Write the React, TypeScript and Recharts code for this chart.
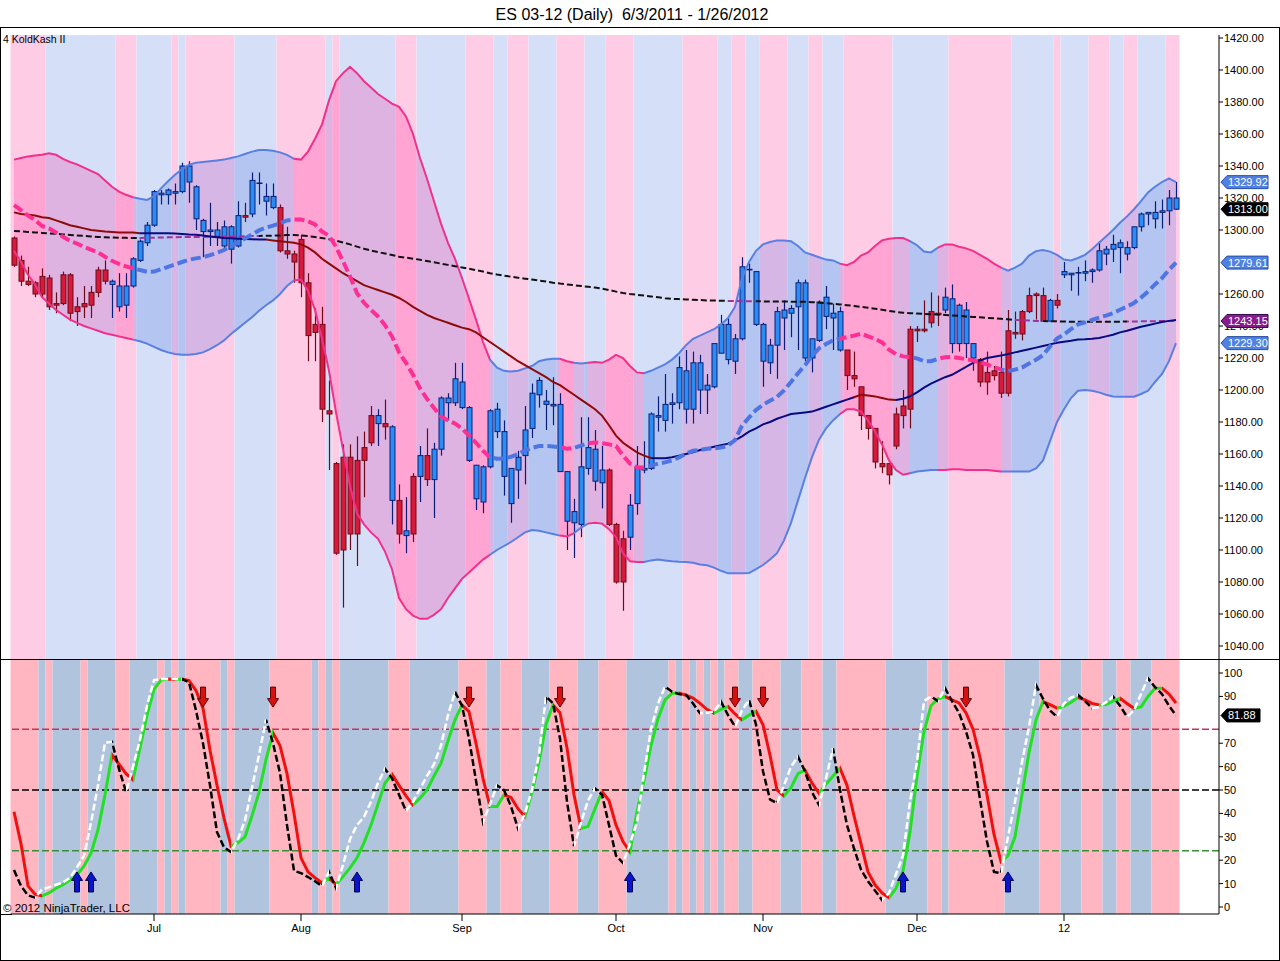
import React from 'react';
import {
  ComposedChart, XAxis, YAxis, Bar, Line, Area,
  ReferenceArea, ReferenceLine, ReferenceDot,
} from 'recharts';

// ---------------- DATA (ES 03-12 daily, 6/3/2011 - 1/26/2012) ----------------
const OPEN = [
  1295,1281,1268,1267,1271,1270,1254,1272,1272,1252,
  1254,1261,1275,1275,1266,1252,1253,1265,1281,1292,
  1303,1322,1322,1323,1324,1330,1307,1299,1299,1296,
  1290,1288,1290,1309,1310,1329,1318,1314,1314,1287,
  1285,1294,1267,1241,1241,1187,1154,1158,1158,1156,
  1164,1184,1179,1179,1131,1131,1109,1146,1146,1159,
  1144,1163,1192,1192,1189,1156,1132,1130,1152,1174,
  1146,1129,1150,1159,1176,1197,1191,1190,1149,1118,
  1117,1116,1151,1143,1142,1150,1116,1107,1108,1129,
  1150,1151,1183,1181,1191,1192,1188,1188,1200,1200,
  1202,1223,1219,1218,1232,1275,1241,1218,1217,1228,
  1245,1248,1252,1220,1220,1231,1246,1245,1225,1225,
  1209,1202,1184,1176,1154,1154,1185,1190,1238,1238,
  1238,1249,1248,1250,1229,1229,1229,1220,1219,1211,
  1212,1211,1237,1236,1249,1259,1260,1259,1243,1256,
  1272,1272,1273,1273,1274,1275,1285,1288,1289,1285,
  1289,1302,1310,1307,1311,1312,1320,
];
const HIGH = [
  1296,1284,1277,1268,1276,1272,1261,1274,1273,1258,
  1265,1265,1277,1281,1269,1273,1273,1283,1294,1305,
  1325,1325,1326,1329,1342,1343,1328,1307,1317,1305,
  1306,1303,1318,1317,1336,1336,1329,1329,1316,1302,
  1287,1297,1273,1251,1252,1206,1155,1166,1166,1171,
  1174,1190,1188,1194,1178,1141,1133,1148,1165,1176,
  1167,1196,1198,1217,1217,1190,1153,1153,1188,1192,
  1181,1151,1162,1190,1204,1208,1200,1208,1198,1149,
  1132,1183,1183,1175,1165,1151,1117,1112,1135,1165,
  1168,1186,1196,1210,1198,1221,1225,1224,1222,1210,
  1229,1247,1245,1235,1283,1279,1274,1242,1232,1252,
  1256,1253,1269,1269,1232,1256,1265,1254,1252,1225,
  1224,1202,1184,1176,1168,1154,1189,1200,1240,1240,
  1256,1261,1259,1264,1266,1254,1255,1229,1220,1224,
  1215,1224,1250,1249,1250,1264,1261,1264,1257,1260,
  1280,1273,1277,1281,1276,1293,1290,1297,1294,1293,
  1302,1311,1311,1318,1319,1325,1330,
];
const LOW = [
  1277,1265,1265,1258,1258,1250,1248,1253,1243,1240,
  1245,1245,1258,1266,1245,1249,1245,1264,1280,1290,
  1302,1316,1316,1316,1323,1317,1300,1283,1290,1290,
  1288,1279,1289,1305,1308,1316,1309,1313,1286,1282,
  1267,1258,1218,1218,1180,1150,1097,1064,1100,1090,
  1133,1165,1165,1169,1116,1104,1098,1105,1130,1140,
  1120,1159,1181,1190,1188,1155,1125,1123,1151,1170,
  1134,1117,1132,1141,1170,1189,1175,1178,1149,1100,
  1095,1108,1147,1137,1126,1115,1079,1062,1100,1122,
  1148,1150,1174,1174,1179,1188,1179,1179,1185,1185,
  1201,1223,1216,1210,1231,1267,1240,1202,1210,1207,
  1225,1233,1225,1218,1211,1230,1238,1225,1224,1200,
  1202,1175,1169,1151,1148,1141,1163,1176,1176,1230,
  1236,1239,1240,1248,1223,1224,1220,1212,1202,1197,
  1206,1195,1196,1232,1231,1248,1244,1243,1243,1251,
  1270,1262,1259,1268,1267,1274,1278,1280,1273,1281,
  1288,1299,1303,1301,1301,1303,1312.5,
];
const CLOSE = [
  1278,1268,1266,1260,1260,1252,1253,1254,1248,1249,
  1252,1253,1261,1268,1268,1265,1265,1282,1293,1303,
  1324,1323,1325,1324,1340,1340,1327,1306,1300,1300,
  1302,1302,1309,1308,1331,1329.5,1321,1321,1287,1285,
  1280,1267,1234,1236,1188,1185,1098,1100,1110,1110,
  1156,1167,1184,1177,1177,1110,1112,1110,1159,1144,
  1163,1195,1195,1207,1205,1189,1153,1152,1187,1188,
  1174,1151,1158,1175,1198,1206,1193,1191,1191,1149,
  1124,1152,1164,1163,1150,1116,1080,1080,1128,1152,
  1151,1185,1184,1191,1192,1214,1212,1217,1217,1203,
  1229,1241,1241,1232,1277,1275.5,1274,1241,1228,1249,
  1250,1251,1267,1267,1232,1255,1258,1248,1249,1209,
  1207,1184,1176,1155,1152,1147,1165,1184,1188,1237,
  1237,1242,1247,1258,1257,1253,1250,1229,1205,1205,
  1209,1198,1198,1235,1235,1249,1259,1243,1256,1253,
  1274,1273,1273.5,1274,1275,1287,1288,1291,1292,1289,
  1302,1310,1311,1311,1312,1320,1313,
];
// bar paint colour (trend): r = red, b = blue   [colour, count]
const BAR_COLOR_RUNS: [string, number][] = [
  ['r',14],['b',19],['r',1],['b',4],['r',14],['b',1],['r',1],['b',1],['r',1],['b',1],['r',1],['b',1],['r',1],
  ['b',25],['r',3],['b',31],['r',14],['b',5],['r',10],['b',1],['r',1],['b',17],
];
const BB_UPPER = [
  1344,1345,1346,1346.5,1347,1348,1347,1344.5,1342.5,1341,
  1339,1337,1335,1331,1327,1324,1322,1320.5,1319.5,1318.75,
  1321,1326,1330.5,1334.5,1338,1340.8,1342,1342.5,1343,1343.5,
  1344,1345,1346,1347.5,1349,1350,1350,1349.5,1348.5,1347,
  1344.5,1344,1349,1357,1366,1381,1393,1398,1402,1398,
  1393,1389,1385,1382,1379,1377,1371,1360,1345,1332,
  1318,1304,1292,1282,1270,1257,1244,1230,1219,1214,
  1212,1211.5,1212,1213.5,1215,1218,1219,1219.5,1219.5,1218,
  1217,1216.5,1217,1217.5,1217,1219,1222,1220,1215,1211,
  1210.5,1212,1214,1216,1219,1223,1228,1232,1234,1236,
  1238,1241,1245,1252,1270,1280,1287,1291,1292.5,1293.5,
  1293.5,1293,1290,1286,1284.5,1283,1281.5,1281,1279,1278,
  1280,1284,1286,1290,1293.5,1294.5,1295,1295,1293,1290.5,
  1286.5,1286,1289,1291,1291,1289.5,1288.5,1287,1284.5,1282,
  1279,1276.5,1274.6,1276.5,1279,1284,1286.8,1287.5,1286.5,1284.4,
  1281.5,1281,1282.5,1284.5,1288,1292,1296,1300,1304.5,1308.5,
  1313,1318,1323.5,1327,1330,1332.3,1329.92,
];
const BB_LOWER = [
  1287,1280,1272,1266,1258,1254,1250,1247,1244,1242,
  1240,1238.5,1237,1235.5,1234.5,1233.5,1232.5,1231.5,1230.5,1229,
  1227,1225,1223.5,1222.5,1222,1222,1222.5,1223.5,1225.5,1228,
  1231,1235,1238.5,1242,1245.5,1249.5,1253,1256,1260,1265,
  1268.5,1269,1262,1250,1232,1212,1186,1163,1140,1123,
  1116,1111,1107,1099,1088,1070,1063,1059,1057,1057,
  1059.5,1063,1070,1076,1082,1086,1090,1094,1097,1100,
  1102.5,1105,1108,1111,1112.5,1112,1111,1110,1109,1108.5,
  1110.5,1114,1116.5,1117,1116.5,1113,1108,1098,1093,1092.5,
  1092.5,1093.5,1094,1093.5,1093,1092.7,1092.5,1092,1091,1090.5,
  1089,1087,1085.4,1085.4,1085.4,1085.6,1088,1090.6,1094,1098,
  1106,1117,1131,1145,1158,1169,1176,1181,1185,1188,
  1188,1186.5,1181,1174,1166,1156,1150,1147,1148,1149,
  1149.5,1150,1150,1150,1150.5,1150.5,1150,1150,1150,1150,
  1149.5,1149,1149,1149,1149,1149,1151,1156,1168,1180,
  1188,1195,1199.5,1200,1199.5,1198.5,1197,1196,1195.8,1195.8,
  1195.8,1197.5,1199.5,1205,1210,1218,1229.3,
];
// Bollinger trend colour: p = pink (falling), b = blue (rising)
const BB_TREND_RUNS: [string, number][] = [
  ['p',18],['b',23],['p',28],['b',10],['p',2],['b',2],['p',8],['b',28],['p',10],['b',4],['p',9],['b',25],
];
const MA50 = [
  1311,1310,1309.5,1309,1308,1307.5,1306,1304.5,1303,1302,
  1301,1300,1299.5,1299,1298.8,1298.5,1298.5,1298.5,1298,1298,
  1298,1298,1298,1297.8,1297.5,1297.2,1297,1296.5,1296,1295.5,
  1295,1294.8,1294.6,1294.4,1294.2,1294,1294,1293.5,1293,1292.5,
  1292,1291,1289,1286,1282,1279,1276,1273,1270.5,1268,
  1265.5,1264,1262.5,1261,1259.5,1257.5,1255,1252,1249.5,1247,
  1245,1243.5,1242,1240.5,1239,1238,1236,1233,1230,1227,
  1224,1221,1218,1215.5,1213,1210.5,1208,1205,1203,1200,
  1197,1194,1191,1188,1184,1178,1171.5,1167,1164,1161,
  1159,1157.5,1157.3,1157.3,1158,1159,1160,1161,1162.5,1163.5,
  1164.5,1165.5,1166.5,1168.5,1171,1174,1176,1178.5,1180,1182,
  1183.5,1185,1185.5,1186,1186.5,1188,1189.5,1191,1192.5,1194,
  1195.5,1197,1196.5,1196,1195,1194,1193.75,1194.5,1196,1198.5,
  1201.5,1204,1206,1208,1209.5,1212,1214.5,1217,1218.5,1220,
  1220.8,1221.5,1222.5,1223.5,1224.5,1225.5,1226.5,1227.5,1228.5,1229.5,
  1230.2,1230.8,1231.5,1231.7,1232,1232.5,1233.5,1234.5,1236,1237,
  1238.3,1239.5,1240.5,1241.5,1242.5,1243.2,1243.8,
];
// r = dark red (falling), n = navy (rising)
const MA_TREND_RUNS: [string, number][] = [['r',19],['n',18],['r',55],['n',29],['r',6],['n',40]];
const SMA200 = [
  1299.4,1299.1,1298.8,1298.5,1298.2,1297.9,1297.6,1297.2,1296.9,1296.6,
  1296.3,1296,1295.7,1295.5,1295.3,1295.2,1295.1,1295,1295,1295.1,
  1295.2,1295.3,1295.4,1295.5,1295.6,1295.6,1295.7,1295.7,1295.8,1295.8,
  1295.9,1296,1296,1296.1,1296.2,1296.3,1296.4,1296.5,1296.6,1296.8,
  1296.9,1296.6,1296.2,1295.6,1295,1294.2,1293.3,1292.2,1291,1289.6,
  1288.3,1287.2,1286.2,1285.3,1284.4,1283.3,1282.7,1282.1,1281.4,1280.6,
  1279.8,1279,1278.2,1277.4,1276.6,1275.8,1274.9,1274,1273,1272.2,
  1271.5,1270.8,1270.2,1269.6,1269,1268.4,1267.8,1267.1,1266.5,1266,
  1265.5,1265,1264.5,1264,1263.4,1262.5,1261.5,1260.6,1260,1259.5,
  1259,1258.5,1258,1257.4,1257,1256.8,1256.6,1256.4,1256.2,1256,
  1255.9,1255.8,1255.7,1255.6,1255.5,1255.5,1255.4,1255.4,1255.3,1255.3,
  1255.3,1255.2,1255.2,1255.1,1254.9,1254.6,1254.3,1253.9,1253.5,1253,
  1252.5,1252,1251.4,1250.8,1250.1,1249.4,1248.8,1248.3,1248,1247.8,
  1247.6,1247.4,1247.2,1246.9,1246.6,1246.3,1246,1245.7,1245.4,1245.1,
  1244.8,1244.5,1244.2,1243.8,1243.6,1243.4,1243.2,1243.1,1243,1242.9,
  1242.8,1242.7,1242.7,1242.7,1242.7,1242.7,1242.7,1242.7,1242.7,1242.8,
  1242.8,1242.9,1243,1243,1243.1,1243.15,1243.15,
];
// k = black, p = purple
const SMA_TREND_RUNS: [string, number][] = [['k',19],['p',17],['k',67],['p',4],['k',37],['p',4],['k',12],['p',7]];
const STOCH_D = [
  40.7,27,9,5.5,4.7,6,8,9.5,11.5,13.7,
  17.5,23,33,48,65,61,57,54.3,68,82,
  93,97,97.4,97.2,97.4,96.8,92.5,85,67,52,
  38,26,27.5,30,39,49,63,74.4,69,57,
  40,21,15,12.5,10.3,12.3,9.6,13,16.7,21,
  27.5,35,44,53,56.7,52,47.5,43.6,46.5,50,
  56,61.5,71,80,86.3,83.5,70,55,42.9,42.9,
  47.9,46.8,42,38.6,49,62,78,86.3,83,68,
  48,33.6,34.4,42,49.3,45.5,35,28,23.6,40.7,
  54,69,80.5,88.5,91.3,91.5,90.5,89.3,87,84.5,
  82.8,84.5,85.7,82.5,80,82,83.6,77.9,64.9,50,
  47.5,51,57,58.5,53,48.6,52.5,56,59.3,52,
  39,27,15,9.5,6,4,8,15.4,32,56,
  75,86,89,89.9,88.5,87.2,83,76,64,48,
  31,19.4,22,30,48,66,80,87.8,86.5,85,
  85.8,87.5,89.5,88.5,87,86.3,86.5,88,89.2,87,
  84.9,85.5,90,93.5,93.5,91,87.2,
];
const STOCH_K = [
  15.8,9,5,4,7.5,8.5,9.5,10.5,12.5,17,
  22,36,52,70.2,70.6,59,49.3,60,71.4,86,
  97,97.4,97.4,97.4,97.4,96,84,70,52,32,
  25.5,23.5,29,37,51,65,80,70,57.3,35,
  15.5,14.5,12.8,11,9,15,8.1,18,29,35,
  38.5,45,53,59,55,48,41,45,50.5,56,
  61,69,82,92,86,72,54,36.4,44,52,
  50,43,33.6,40,50,65,90,87,72,45,
  26,36,45.5,50.7,48,35,22,18.8,27,36.4,
  57,76,87,94.2,92,91,90.6,87,82.8,83,
  83.5,87.8,82,77.1,84,88.5,78,58,46,44.3,
  52,60,64.2,58,49,43.6,55,67.8,50,35,
  25,16,11,7,3,6,14,22,45,62,
  88,90,88,93.5,88,83,75,65,46,28,
  15,14.4,30,45,62,77,94.8,89,84,81.3,
  87,89.5,90.6,88,85,85.5,87.5,89.9,86,81.3,
  84,91,97.7,94,91,86,81.88,
];
const UP_ARROWS = [9, 11, 49, 88, 127, 142];
const DOWN_ARROWS = [27, 37, 65, 78, 103, 107, 136];
const UP_ARROW_LEVEL = 10.7;
const DOWN_ARROW_LEVEL = 89.7;
// background bar shading (p = pink, b = blue)
const UPPER_BG_RUNS: [string, number][] = [
  ['p',5],['b',10],['p',3],['b',5],['p',1],['b',1],['p',7],['b',6],['p',7],['b',1],['p',1],['b',8],['p',3],['b',7],
  ['p',4],['b',2],['p',3],['b',4],['p',4],['b',3],['p',4],['b',7],['p',5],['b',2],['p',2],['b',2],['p',4],['b',3],
  ['p',2],['b',3],['p',7],['b',8],['p',9],['b',6],['p',1],['b',4],['p',3],['b',2],['p',2],['b',4],['p',2],
];
const LOWER_BG_RUNS: [string, number][] = [
  ['p',4],['b',1],['p',1],['b',4],['p',1],['b',4],['p',2],['b',4],['p',1],['b',1],['p',1],['b',1],['p',5],['b',1],
  ['p',1],['b',5],['p',6],['b',1],['p',1],['b',1],['p',1],['b',7],['p',3],['b',7],['p',4],['b',2],['p',3],['b',4],
  ['p',4],['b',3],['p',4],['b',6],['p',1],['b',1],['p',1],['b',1],['p',1],['b',1],['p',1],['b',1],['p',2],['b',2],
  ['p',4],['b',3],['p',3],['b',2],['p',7],['b',6],['p',2],['b',1],['p',8],['b',5],['p',3],['b',3],['p',3],['b',2],
  ['p',2],['b',3],['p',4],
];
// tick labels; 1280.00 and 80 sit fully under the value tags in the reference, so they are not shown
const PRICE_TICKS = [1040,1060,1080,1100,1120,1140,1160,1180,1200,1220,1240,1260,1300,1320,1340,1360,1380,1400,1420];
const OSC_TICKS = [0,10,20,30,40,50,60,70,90,100];
const MONTH_TICK_INDEX = [20, 41, 64, 86, 107, 129, 150];
const MONTH_LABELS = ['Jul', 'Aug', 'Sep', 'Oct', 'Nov', 'Dec', '12'];
const OSC_LEVELS = [76, 50, 24];

// ---------------- helpers ----------------
const FONT = '"Liberation Sans", Arial, Helvetica, sans-serif';
const N = CLOSE.length;

function expand(runs: [string, number][]): string[] {
  const out: string[] = [];
  runs.forEach(([c, n]) => { for (let k = 0; k < n; k++) out.push(c); });
  return out;
}
function runList(runs: [string, number][]) {
  let s = 0;
  return runs.map(([c, n]) => { const r = { c, start: s, end: s + n - 1 }; s += n; return r; });
}

const BAR_COLOR = expand(BAR_COLOR_RUNS);
const BB_TREND = expand(BB_TREND_RUNS);
const MA_TREND = expand(MA_TREND_RUNS);
const SMA_TREND = expand(SMA_TREND_RUNS);

const rows = CLOSE.map((c, i) => ({
  i,
  o: OPEN[i], h: HIGH[i], l: LOW[i], c,
  col: BAR_COLOR[i],
  bu: BB_UPPER[i], bl: BB_LOWER[i], bm: (BB_UPPER[i] + BB_LOWER[i]) / 2,
  ma: MA50[i], sma: SMA200[i],
  d: STOCH_D[i], k: STOCH_K[i],
  up: UP_ARROWS.includes(i) ? UP_ARROW_LEVEL : null,
  dn: DOWN_ARROWS.includes(i) ? DOWN_ARROW_LEVEL : null,
}));

type Seg = { color: string; opacity?: number };
function makeGrad(id: string, segs: Seg[]) {
  const last = segs.length;
  const stops: any[] = [];
  let start = 0;
  for (let s = 1; s <= last; s++) {
    if (s === last || segs[s].color !== segs[start].color || segs[s].opacity !== segs[start].opacity) {
      const op = segs[start].opacity ?? 1;
      stops.push(<stop key={`a${start}`} offset={start / last} stopColor={segs[start].color} stopOpacity={op} />);
      stops.push(<stop key={`b${start}`} offset={s / last} stopColor={segs[start].color} stopOpacity={op} />);
      start = s;
    }
  }
  return <linearGradient key={id} id={id} x1="0" y1="0" x2="1" y2="0">{stops}</linearGradient>;
}
const segIdx = Array.from({ length: N - 1 }, (_, s) => s);

const C = {
  upPinkBg: '#FFCCE6', upBlueBg: '#D5DFF7',
  loPinkBg: '#FFB6C1', loBlueBg: '#B0C4DE',
  bandPink: '#F0308A', bandBlue: '#5A7FE0',
  midPink: '#FF2E93', midBlue: '#4F74E3',
};

const gradBbLine = makeGrad('gBbLine', segIdx.map(s => ({ color: BB_TREND[s + 1] === 'p' ? C.bandPink : C.bandBlue })));
const gradBbMid = makeGrad('gBbMid', segIdx.map(s => ({ color: BB_TREND[s + 1] === 'p' ? C.midPink : C.midBlue })));
const gradBbFill = makeGrad('gBbFill', segIdx.map(s => (BB_TREND[s + 1] === 'p'
  ? { color: '#FF1493', opacity: 0.22 } : { color: '#4169E1', opacity: 0.22 })));
const gradMa = makeGrad('gMa', segIdx.map(s => ({ color: MA_TREND[s + 1] === 'r' ? '#8B0A0A' : '#0A0A80' })));
const gradSma = makeGrad('gSma', segIdx.map(s => ({ color: SMA_TREND[s + 1] === 'p' ? '#A0309A' : '#111111' })));
const gradD = makeGrad('gD', segIdx.map(s => ({ color: STOCH_D[s + 1] >= STOCH_D[s] ? '#22E022' : '#F01010' })));
const gradK = makeGrad('gK', segIdx.map(s => ({ color: STOCH_K[s + 1] >= STOCH_K[s] ? '#FFFFFF' : '#000000' })));

// ---------------- shapes ----------------
const Candle = (props: any) => {
  const { x, y, width, height, payload } = props;
  if (!payload || x == null || y == null || height == null) return <g />;
  const { o, h, l, c, col } = payload;
  const top = Math.min(y, y + height);
  const bot = Math.max(y, y + height);
  const span = h - l;
  const py = (p: number) => (span > 0 ? top + ((h - p) / span) * (bot - top) : top);
  const cx = x + width / 2;
  const bTop = py(Math.max(o, c));
  const bBot = py(Math.min(o, c));
  const fill = col === 'r' ? '#D7193C' : '#2A8CF5';
  const edge = col === 'r' ? '#6E0A17' : '#0A1E78';
  return (
    <g>
      <line x1={cx} x2={cx} y1={top} y2={bot} stroke={edge} strokeWidth={1.2} />
      {bBot - bTop < 1.5 ? (
        <line x1={cx - 3} x2={cx + 3} y1={(bTop + bBot) / 2} y2={(bTop + bBot) / 2} stroke={edge} strokeWidth={1.6} />
      ) : (
        <rect x={cx - 2.5} y={bTop} width={5} height={bBot - bTop} fill={fill} stroke={edge} strokeWidth={1} />
      )}
    </g>
  );
};

const UpArrow = (p: any) => {
  const { cx, cy, value, index } = p;
  if (value == null || cy == null || isNaN(cy)) return <g key={`u${index}`} />;
  const pts = [[cx, cy - 10], [cx + 5.5, cy - 1.5], [cx + 2.5, cy - 1.5], [cx + 2.5, cy + 10], [cx - 2.5, cy + 10], [cx - 2.5, cy - 1.5], [cx - 5.5, cy - 1.5]]
    .map(q => q.join(',')).join(' ');
  return <polygon key={`u${index}`} points={pts} fill="#0A14C8" stroke="#000050" strokeWidth={1} />;
};
const DownArrow = (p: any) => {
  const { cx, cy, value, index } = p;
  if (value == null || cy == null || isNaN(cy)) return <g key={`d${index}`} />;
  const pts = [[cx, cy + 10], [cx + 5.5, cy + 1.5], [cx + 2.5, cy + 1.5], [cx + 2.5, cy - 10], [cx - 2.5, cy - 10], [cx - 2.5, cy + 1.5], [cx - 5.5, cy + 1.5]]
    .map(q => q.join(',')).join(' ');
  return <polygon key={`d${index}`} points={pts} fill="#D81010" stroke="#600000" strokeWidth={1} />;
};

const TAG_X = 1221;
const makeTag = (text: string, fill: string, stroke: string, w: number) => (p: any) => {
  const cy = p.cy;
  if (cy == null || isNaN(cy)) return <g />;
  const hh = 6.5;
  const pts = `${TAG_X},${cy} ${TAG_X + 6},${cy - hh} ${TAG_X + w},${cy - hh} ${TAG_X + w},${cy + hh} ${TAG_X + 6},${cy + hh}`;
  return (
    <g>
      <polygon points={pts} fill={fill} stroke={stroke} strokeWidth={1} />
      <text x={TAG_X + 7} y={cy} dy="0.36em" fontSize={11} fill="#FFFFFF" fontFamily={FONT}>{text}</text>
    </g>
  );
};

const MonthTick = (props: any) => {
  const { x, y, payload } = props;
  const idx = MONTH_TICK_INDEX.indexOf(payload?.value);
  if (idx < 0) return <g />;
  return (
    <g>
      <line x1={x} x2={x} y1={y - 10} y2={y - 3} stroke="#000" strokeWidth={1} />
      <text x={x} y={y} dy="0.71em" textAnchor="middle" fontSize={11} fill="#000" fontFamily={FONT}>{MONTH_LABELS[idx]}</text>
    </g>
  );
};

const axisTick = { fontSize: 11, fill: '#000', fontFamily: FONT };
const LAST = N - 1;

export default function App() {
  const upperRuns = runList(UPPER_BG_RUNS);
  const lowerRuns = runList(LOWER_BG_RUNS);
  return (
    <div style={{ position: 'absolute', left: 0, top: 0, width: 1280, height: 961, background: '#fff', fontFamily: FONT, overflow: 'hidden' }}>
      <div style={{ position: 'absolute', left: 0, top: 7, width: 1264, textAlign: 'center', fontSize: 16, lineHeight: 1, whiteSpace: 'pre', color: '#000' }}>
        {'ES 03-12 (Daily)  6/3/2011 - 1/26/2012'}
      </div>

      {/* price panel */}
      <div style={{ position: 'absolute', left: 0, top: 0 }}>
        <ComposedChart width={1280} height={660} data={rows} margin={{ top: 35, right: 0, bottom: 1, left: 10.5 }}>
          <defs>
            {gradBbLine}{gradBbMid}{gradBbFill}{gradMa}{gradSma}
          </defs>
          <XAxis dataKey="i" type="category" scale="band" hide padding={{ left: 0, right: 39.5 }} />
          <YAxis orientation="right" width={61} domain={[1031.875, 1421.875]} allowDataOverflow ticks={PRICE_TICKS} interval={0}
            tickFormatter={(v: number) => Number(v).toFixed(2)} tick={axisTick} tickSize={4} tickMargin={1}
            axisLine={{ stroke: '#000' }} tickLine={{ stroke: '#000' }} />
          {upperRuns.map(r => (
            <ReferenceArea key={`ub${r.start}`} x1={r.start} x2={r.end} fill={r.c === 'p' ? C.upPinkBg : C.upBlueBg}
              fillOpacity={1} stroke="none" ifOverflow="visible" zIndex={-10} />
          ))}
          <Area dataKey={(d: any) => [d.bl, d.bu]} fill="url(#gBbFill)" fillOpacity={1} stroke="none" isAnimationActive={false} dot={false} activeDot={false} />
          <Bar dataKey={(d: any) => [d.l, d.h]} barSize={6} shape={Candle} isAnimationActive={false} />
          <Line dataKey="bu" stroke="url(#gBbLine)" strokeWidth={2} dot={false} activeDot={false} isAnimationActive={false} />
          <Line dataKey="bl" stroke="url(#gBbLine)" strokeWidth={2} dot={false} activeDot={false} isAnimationActive={false} />
          <Line dataKey="sma" stroke="url(#gSma)" strokeWidth={2} strokeDasharray="6 3" dot={false} activeDot={false} isAnimationActive={false} />
          <Line dataKey="ma" stroke="url(#gMa)" strokeWidth={2} dot={false} activeDot={false} isAnimationActive={false} />
          <Line dataKey="bm" stroke="url(#gBbMid)" strokeWidth={4} strokeDasharray="10 4" dot={false} activeDot={false} isAnimationActive={false} />
          <ReferenceDot x={LAST} y={BB_LOWER[LAST]} r={0} shape={makeTag(BB_LOWER[LAST].toFixed(2), '#4F80E6', '#2A4FA0', 47)} ifOverflow="visible" zIndex={2000} />
          <ReferenceDot x={LAST} y={SMA200[LAST]} r={0} shape={makeTag(SMA200[LAST].toFixed(2), '#8B1A8B', '#2A0A50', 47)} ifOverflow="visible" zIndex={2000} />
          <ReferenceDot x={LAST} y={rows[LAST].bm} r={0} shape={makeTag(rows[LAST].bm.toFixed(2), '#4F80E6', '#2A4FA0', 47)} ifOverflow="visible" zIndex={2000} />
          <ReferenceDot x={LAST} y={CLOSE[LAST]} r={0} shape={makeTag(CLOSE[LAST].toFixed(2), '#000000', '#000000', 47)} ifOverflow="visible" zIndex={2000} />
          <ReferenceDot x={LAST} y={BB_UPPER[LAST]} r={0} shape={makeTag(BB_UPPER[LAST].toFixed(2), '#4F80E6', '#2A4FA0', 47)} ifOverflow="visible" zIndex={2000} />
        </ComposedChart>
      </div>

      {/* oscillator panel */}
      <div style={{ position: 'absolute', left: 0, top: 659 }}>
        <ComposedChart width={1280} height={302} data={rows} margin={{ top: 1, right: 0, bottom: 0, left: 10.5 }}>
          <defs>
            {gradD}{gradK}
          </defs>
          <XAxis dataKey="i" type="category" scale="band" padding={{ left: 0, right: 39.5 }} height={47} interval={0}
            axisLine={{ stroke: '#000' }} tickLine={false} tickSize={7} tickMargin={3} tick={<MonthTick />} />
          <YAxis orientation="right" width={61} domain={[-2.99, 105.56]} allowDataOverflow ticks={OSC_TICKS} interval={0}
            tick={axisTick} tickSize={4} tickMargin={1} axisLine={{ stroke: '#000' }} tickLine={{ stroke: '#000' }} />
          {lowerRuns.map(r => (
            <ReferenceArea key={`lb${r.start}`} x1={r.start} x2={r.end} fill={r.c === 'p' ? C.loPinkBg : C.loBlueBg}
              fillOpacity={1} stroke="none" ifOverflow="visible" zIndex={-10} />
          ))}
          <ReferenceLine y={OSC_LEVELS[0]} stroke="#C8325A" strokeDasharray="7 3" strokeWidth={1.5} zIndex={350} />
          <ReferenceLine y={OSC_LEVELS[1]} stroke="#000000" strokeDasharray="7 3" strokeWidth={1.5} zIndex={350} />
          <ReferenceLine y={OSC_LEVELS[2]} stroke="#3C8C3C" strokeDasharray="7 3" strokeWidth={1.5} zIndex={350} />
          <Line dataKey="d" stroke="url(#gD)" strokeWidth={3} dot={false} activeDot={false} isAnimationActive={false} />
          <Line dataKey="k" stroke="url(#gK)" strokeWidth={2.5} strokeDasharray="7 3" dot={false} activeDot={false} isAnimationActive={false} />
          <Line dataKey="up" stroke="none" dot={UpArrow} activeDot={false} isAnimationActive={false} />
          <Line dataKey="dn" stroke="none" dot={DownArrow} activeDot={false} isAnimationActive={false} />
          <ReferenceDot x={LAST} y={STOCH_K[LAST]} r={0} shape={makeTag(STOCH_K[LAST].toFixed(2), '#000000', '#000000', 39)} ifOverflow="visible" zIndex={2000} />
        </ComposedChart>
      </div>

      {/* frame & text */}
      <div style={{ position: 'absolute', left: 0, top: 659, width: 1280, height: 1, background: '#000' }} />
      <div style={{ position: 'absolute', left: 0, top: 914, width: 12, height: 1, background: '#000' }} />
      <div style={{ position: 'absolute', left: 0, top: 27, width: 1278, height: 932, border: '1px solid #000' }} />
      <div style={{ position: 'absolute', left: 3, top: 34, fontSize: 10.5, lineHeight: 1, color: '#000', whiteSpace: 'pre' }}>4 KoldKash II</div>
      <div style={{ position: 'absolute', left: 3, top: 903, fontSize: 11.5, lineHeight: 1, color: '#000', whiteSpace: 'pre' }}>© 2012 NinjaTrader, LLC</div>
    </div>
  );
}
